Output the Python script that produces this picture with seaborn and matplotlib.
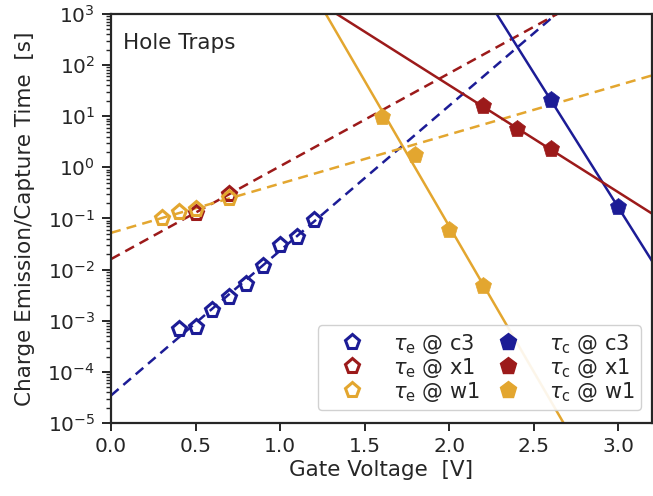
import numpy as np
import pandas as pd
import matplotlib
matplotlib.use("Agg")
import matplotlib.pyplot as plt
import seaborn as sns
from matplotlib.lines import Line2D

# ---- data ----
traps = ["c3", "x1", "w1"]
colors = {"c3": "#1c1c96", "x1": "#9c1a1a", "w1": "#e3a62f"}

# emission times (open markers)
te_c3_v = [0.4, 0.5, 0.6, 0.7, 0.8, 0.9, 1.0, 1.1, 1.2]
te_c3_t = [6.9e-4, 7.4e-4, 1.6e-3, 2.9e-3, 5.2e-3, 1.17e-2, 3.0e-2, 4.4e-2, 9.3e-2]
te_x1_v = [0.5, 0.7]
te_x1_t = [0.13, 0.30]
te_w1_v = [0.3, 0.4, 0.5, 0.7]
te_w1_t = [0.10, 0.135, 0.15, 0.25]

# capture times (filled markers)
tc_c3_v = [2.6, 3.0]
tc_c3_t = [21.0, 0.166]
tc_x1_v = [2.2, 2.4, 2.6]
tc_x1_t = [15.8, 5.6, 2.3]
tc_w1_v = [1.6, 1.8, 2.0, 2.2]
tc_w1_t = [9.6, 1.74, 0.059, 0.0048]

emission = {"c3": (te_c3_v, te_c3_t), "x1": (te_x1_v, te_x1_t), "w1": (te_w1_v, te_w1_t)}
capture = {"c3": (tc_c3_v, tc_c3_t), "x1": (tc_x1_v, tc_x1_t), "w1": (tc_w1_v, tc_w1_t)}

x_range = [0.0, 3.2]

# ---- style ----
sns.set_style("ticks")
plt.rcParams["font.family"] = ["DejaVu Sans"]
plt.rcParams["axes.linewidth"] = 1.6
plt.rcParams["xtick.major.width"] = 1.4
plt.rcParams["ytick.major.width"] = 1.4
plt.rcParams["ytick.minor.width"] = 1.0
plt.rcParams["xtick.major.size"] = 6
plt.rcParams["ytick.major.size"] = 6.5
plt.rcParams["ytick.minor.size"] = 3.5
plt.rcParams["xtick.major.pad"] = 4
plt.rcParams["ytick.major.pad"] = 5
plt.rcParams["text.color"] = "#262626"
plt.rcParams["axes.labelcolor"] = "#262626"
plt.rcParams["xtick.color"] = "#262626"
plt.rcParams["ytick.color"] = "#262626"

fig = plt.figure(figsize=(6.53, 4.96), dpi=100)
ax = fig.add_axes([0.170, 0.147, 0.8285, 0.825])

xfit = np.linspace(x_range[0], x_range[1], 200)

def fit_line(v, t):
    p = np.polyfit(np.asarray(v), np.log10(np.asarray(t)), 1)
    return 10 ** np.polyval(p, xfit)

for trap in traps:
    v, t = emission[trap]
    sns.lineplot(x=xfit, y=fit_line(v, t), ax=ax, color=colors[trap],
                 linestyle=(0, (4, 2.5)), linewidth=1.8, zorder=2)
for trap in traps:
    v, t = capture[trap]
    sns.lineplot(x=xfit, y=fit_line(v, t), ax=ax, color=colors[trap],
                 linestyle="-", linewidth=1.8, zorder=2)

for trap in traps:
    v, t = emission[trap]
    ax.plot(v, t, linestyle="none", marker="p", markersize=11,
            markerfacecolor="none", markeredgecolor=colors[trap],
            markeredgewidth=2.2, zorder=4)
for trap in traps:
    v, t = capture[trap]
    ax.plot(v, t, linestyle="none", marker="p", markersize=12.5,
            markerfacecolor=colors[trap], markeredgecolor=colors[trap],
            markeredgewidth=0.5, zorder=4)

ax.set_yscale("log")
ax.set_xlim(*x_range)
ax.set_ylim(1e-5, 1e3)
ax.set_xticks([0.0, 0.5, 1.0, 1.5, 2.0, 2.5, 3.0])
ax.set_xticklabels(["0.0", "0.5", "1.0", "1.5", "2.0", "2.5", "3.0"])
ax.yaxis.set_major_locator(matplotlib.ticker.LogLocator(base=10, numticks=20))
ax.yaxis.set_minor_locator(matplotlib.ticker.LogLocator(base=10, subs=np.arange(2, 10), numticks=20))
ax.yaxis.set_minor_formatter(matplotlib.ticker.NullFormatter())
ax.tick_params(axis="both", which="major", labelsize=14.5)

ax.set_xlabel("Gate Voltage  [V]", fontsize=15.5, labelpad=3)
ax.set_ylabel("Charge Emission/Capture Time  [s]", fontsize=15.5, labelpad=9)

ax.text(0.022, 0.93, "Hole Traps", transform=ax.transAxes, fontsize=15.5,
        ha="left", va="center")

handles = []
labels = []
for trap in traps:
    handles.append(Line2D([], [], linestyle="none", marker="p", markersize=11,
                          markerfacecolor="none", markeredgecolor=colors[trap],
                          markeredgewidth=2.2))
    labels.append(r"$\tau_\mathrm{e}$ @ " + trap)
for trap in traps:
    handles.append(Line2D([], [], linestyle="none", marker="p", markersize=12.5,
                          markerfacecolor=colors[trap], markeredgecolor=colors[trap]))
    labels.append(r"$\tau_\mathrm{c}$ @ " + trap)

ax.legend(handles, labels, ncol=2, loc="lower right", fontsize=15,
          frameon=True, fancybox=True, framealpha=0.9, edgecolor="#cccccc",
          handlelength=2.65, handletextpad=0.66, columnspacing=0.0,
          labelspacing=0.0, borderpad=0.3, borderaxespad=0,
          bbox_to_anchor=(0.98, 0.032))

fig.savefig("out.png", dpi=100)
